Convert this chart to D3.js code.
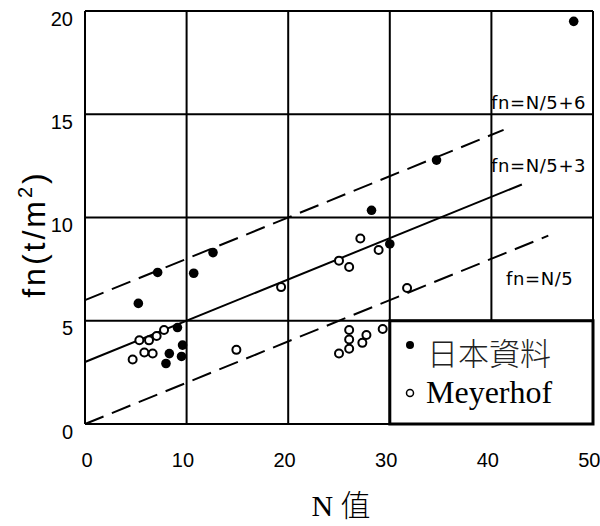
<!DOCTYPE html>
<html>
<head>
<meta charset="utf-8">
<script src="https://cdn.jsdelivr.net/npm/d3@7"></script>
<style>
  html, body { margin: 0; padding: 0; background: #fff; }
  svg { display: block; }
</style>
</head>
<body>
<svg id="chart" width="600" height="526"></svg>
<script>
// Tick values for both axes
const xTicks = [0, 10, 20, 30, 40, 50];
const yTicks = [0, 5, 10, 15, 20];

// Filled dots: Japanese records (N, fn)
const japanN  = [7.15, 10.7, 5.25, 9.1, 9.6, 8.3, 9.5, 7.97, 12.6, 28.2, 30.0, 34.6, 48.1];
const japanFn = [7.34, 7.3, 5.84, 4.67, 3.82, 3.41, 3.27, 2.93, 8.3, 10.35, 8.72, 12.78, 19.5];

// Open circles: Meyerhof records (N, fn)
const meyerN  = [7.78, 7.05, 6.3, 5.35, 5.84, 6.66, 4.69, 14.9, 19.3, 27.1, 28.9, 25.0, 26.0, 26.0, 29.3, 27.7, 26.0, 27.3, 26.0, 25.0, 31.7];
const meyerFn = [4.55, 4.26, 4.05, 4.06, 3.46, 3.41, 3.12, 3.59, 6.63, 8.98, 8.43, 7.91, 7.6, 4.55, 4.6, 4.31, 4.09, 3.93, 3.64, 3.41, 6.59];

// Reference lines fn = N/5 + c, drawn from N = 0 to nEnd
const lineLabels  = ["fn=N/5+6", "fn=N/5+3", "fn=N/5"];
const lineOffsets = [6, 3, 0];
const lineEnds    = [41.2, 43, 45.6];
const lineDashed  = [true, false, true];

// Legend entries
const legendLabels = ["日本資料", "Meyerhof"];

const svg = d3.select("#chart");
const x = d3.scaleLinear().domain([0, 50]).range([85, 593]);
const y = d3.scaleLinear().domain([0, 20]).range([424, 11]);

// Grid
const grid = svg.append("g").attr("stroke", "#000").attr("stroke-width", 2);
grid.selectAll("line.v").data(xTicks).join("line")
  .attr("x1", d => x(d)).attr("x2", d => x(d))
  .attr("y1", y(0)).attr("y2", y(20));
grid.selectAll("line.h").data(yTicks).join("line")
  .attr("x1", x(0)).attr("x2", x(50))
  .attr("y1", d => y(d)).attr("y2", d => y(d));

// Axes (labels only; grid lines drawn above)
const xAxis = svg.append("g").attr("transform", `translate(0,${y(0)})`)
  .call(d3.axisBottom(x).tickValues(xTicks).tickSize(0).tickFormat(d3.format("d")));
xAxis.select(".domain").remove();
xAxis.selectAll("text")
  .attr("text-anchor", "end").attr("x", 7).attr("y", 43).attr("dy", null)
  .style("font-family", "'Liberation Sans', Arial, sans-serif").style("font-size", "20px").attr("fill", "#000");

const yAxis = svg.append("g").attr("transform", `translate(${x(0)},0)`)
  .call(d3.axisLeft(y).tickValues(yTicks).tickSize(0).tickFormat(d3.format("d")));
yAxis.select(".domain").remove();
yAxis.selectAll("text")
  .attr("text-anchor", "end").attr("x", -12).attr("y", 14).attr("dy", null)
  .style("font-family", "'Liberation Sans', Arial, sans-serif").style("font-size", "20px").attr("fill", "#000");

// Reference lines
const lineGroup = svg.append("g").attr("fill", "none").attr("stroke", "#000").attr("stroke-width", 2);
lineOffsets.forEach((c, i) => {
  lineGroup.append("line")
    .attr("x1", x(0)).attr("y1", y(c))
    .attr("x2", x(lineEnds[i])).attr("y2", y(lineEnds[i] / 5 + c))
    .attr("stroke-dasharray", lineDashed[i] ? "20 9" : null);
});

// Line labels
const labelPos = [[491, 109], [491, 172], [506, 285]];
svg.append("g").selectAll("text").data(lineLabels).join("text")
  .attr("x", (d, i) => labelPos[i][0]).attr("y", (d, i) => labelPos[i][1])
  .style("font-family", "'DejaVu Sans', sans-serif").style("font-size", "18px")
  .style("letter-spacing", "0.6px")
  .attr("fill", "#000").text(d => d);

// Points
const japan = japanN.map((n, i) => [n, japanFn[i]]);
const meyer = meyerN.map((n, i) => [n, meyerFn[i]]);
svg.append("g").selectAll("circle").data(meyer).join("circle")
  .attr("cx", d => x(d[0])).attr("cy", d => y(d[1])).attr("r", 4)
  .attr("fill", "#fff").attr("stroke", "#000").attr("stroke-width", 2);
svg.append("g").selectAll("circle").data(japan).join("circle")
  .attr("cx", d => x(d[0])).attr("cy", d => y(d[1])).attr("r", 4.8)
  .attr("fill", "#000");

// Legend box
const lg = svg.append("g");
lg.append("rect")
  .attr("x", x(30)).attr("y", y(5))
  .attr("width", x(50) - x(30)).attr("height", y(0) - y(5))
  .attr("fill", "#fff").attr("stroke", "#000").attr("stroke-width", 3);
lg.append("circle").attr("cx", 410).attr("cy", 345).attr("r", 4).attr("fill", "#000");
lg.append("circle").attr("cx", 410).attr("cy", 393).attr("r", 3.5)
  .attr("fill", "#fff").attr("stroke", "#000").attr("stroke-width", 1.5);
lg.append("text").attr("x", 427).attr("y", 365)
  .style("font-family", "'Noto Sans CJK TC', sans-serif").style("font-size", "31px").style("font-weight", 300)
  .attr("fill", "#222").text(legendLabels[0]);
lg.append("text").attr("x", 426).attr("y", 403)
  .style("font-family", "'Liberation Serif', 'Times New Roman', serif").style("font-size", "32px")
  .attr("fill", "#000").text(legendLabels[1]);

// Axis titles
const yt = svg.append("text")
  .attr("transform", "translate(45,234) rotate(-90)")
  .attr("text-anchor", "middle")
  .style("font-family", "'Liberation Sans', Arial, sans-serif").style("font-size", "32px")
  .style("letter-spacing", "3px")
  .attr("fill", "#000");
yt.append("tspan").text("fn(t/m");
yt.append("tspan").attr("dy", -13).style("font-size", "20px").text("2");
yt.append("tspan").attr("dy", 13).text(")");

const xt = svg.append("text").attr("x", 341).attr("y", 516).attr("text-anchor", "middle")
  .attr("fill", "#000").style("font-size", "30px");
xt.append("tspan").style("font-family", "'Liberation Serif', 'Times New Roman', serif").text("N ");
xt.append("tspan").style("font-family", "'Noto Sans CJK TC', sans-serif").style("font-weight", 300).text("值");
</script>
</body>
</html>
